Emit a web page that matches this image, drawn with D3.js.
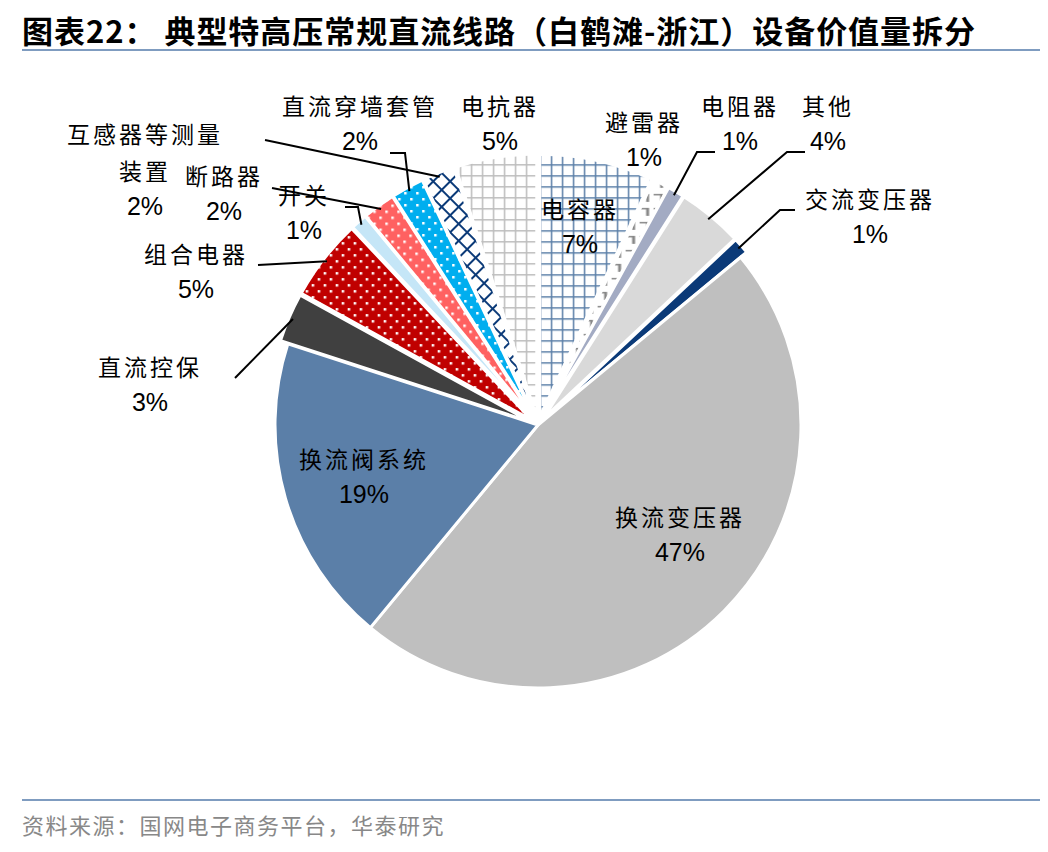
<!DOCTYPE html>
<html><head><meta charset="utf-8">
<script src="https://cdn.jsdelivr.net/npm/d3@7"></script>
<style>body{margin:0;background:#fff}</style></head>
<body><svg id="c" width="1048" height="852"></svg>
<script>
const categories=["电容器","避雷器","电阻器","其他","交流变压器","换流变压器","换流阀系统","直流控保","组合电器","开关","断路器","直流穿墙套管","互感器等测量装置","电抗器"];
const values=[7,1,1,4,1,47,19,3,5,1,2,2,2,5];
const labels=["7%","1%","1%","4%","1%","47%","19%","3%","5%","1%","2%","2%","2%","5%"];
const fills=["url(#pCap)","url(#pArr)","#A3ABC3","#D9D9D9","#0B3A78","#BFBFBF","#5B7FA8","#404040","url(#pRed)","#C5E6F7","url(#pSal)","url(#pCyan)","url(#pNavy)","url(#pGray)"];
const explode=[8,8,8,8,8,0,0,8,8,8,8,8,8,8];
const labelPos=[[580,218,"电容器"],[644,131,"避雷器"],[740,115,"电阻器"],[828,115,"其他"],[870,208,"交流变压器"],[680,526,"换流变压器"],[364,468,"换流阀系统"],[150,376,"直流控保"],[196,263,"组合电器"],[304,204,"开关"],[224,185,"断路器"],[360,115,"直流穿墙套管"],[145,143,"互感器等测量|装置"],[500,115,"电抗器"]];
const leaders={2:[[697,152],[715,152]],3:[[787,152],[805,152]],4:[[780,210],[795,210]],7:[[235,378]],8:[[258,265]],9:[[358,207],[345,207]],10:[[272,188]],12:[[265,140]],11:[[405,153],[390,153]]};
const svg=d3.select("#c");
const defs=svg.append("defs");
function grid(id,bg,col,s,w){const p=defs.append("pattern").attr("id",id).attr("width",s).attr("height",s).attr("patternUnits","userSpaceOnUse");
 p.append("rect").attr("width",s).attr("height",s).attr("fill",bg);
 p.append("path").attr("d",`M0,0H${s}M0,0V${s}`).attr("stroke",col).attr("stroke-width",w);}
grid("pCap","#fff","#5B7FA8",11,3);
grid("pGray","#fff","#BDBDBD",11,3);
function dots(id,bg){const p=defs.append("pattern").attr("id",id).attr("width",12).attr("height",12).attr("patternUnits","userSpaceOnUse");
 p.append("rect").attr("width",12).attr("height",12).attr("fill",bg);
 p.append("rect").attr("x",2).attr("y",2).attr("width",2.5).attr("height",2.5).attr("fill","#fff");
 p.append("rect").attr("x",8).attr("y",8).attr("width",2.5).attr("height",2.5).attr("fill","#fff");}
dots("pRed","#C00000");dots("pSal","#FF6161");dots("pCyan","#00AEEF");
{const p=defs.append("pattern").attr("id","pNavy").attr("width",12).attr("height",12).attr("patternUnits","userSpaceOnUse").attr("patternTransform","rotate(45)");
 p.append("rect").attr("width",12).attr("height",12).attr("fill","#fff");
 p.append("path").attr("d","M0,0H12M0,0V12").attr("stroke","#0B3A78").attr("stroke-width",4);}
{const p=defs.append("pattern").attr("id","pArr").attr("width",14).attr("height",14).attr("patternUnits","userSpaceOnUse");
 p.append("rect").attr("width",14).attr("height",14).attr("fill","#fff");
 p.append("path").attr("d","M0,0H8V8").attr("stroke","#888").attr("stroke-width",3).attr("fill","none");}
svg.append("text").attr("x",22).attr("y",43).attr("font-family","Noto Sans CJK SC").attr("font-weight","bold").attr("font-size",31).attr("textLength",953).text("图表22：  典型特高压常规直流线路（白鹤滩-浙江）设备价值量拆分");
svg.append("line").attr("x1",22).attr("x2",1040).attr("y1",50).attr("y2",50).attr("stroke","#7F9CC0").attr("stroke-width",2);
svg.append("line").attr("x1",22).attr("x2",1040).attr("y1",800).attr("y2",800).attr("stroke","#7F9CC0").attr("stroke-width",2);
svg.append("text").attr("x",22).attr("y",834).attr("font-family","Noto Sans CJK SC").attr("font-size",22).attr("letter-spacing",1.5).attr("fill","#888").text("资料来源：国网电子商务平台，华泰研究");
const cx=538,cy=425,R=263;
const pie=d3.pie().sort(null).value(d=>d)(values);
const arc=d3.arc().innerRadius(0).outerRadius(R);
const g=svg.append("g").attr("transform",`translate(${cx},${cy})`);
pie.forEach((d,i)=>{const m=(d.startAngle+d.endAngle)/2;const dx=Math.sin(m)*explode[i],dy=-Math.cos(m)*explode[i];
 g.append("path").attr("d",arc(d)).attr("transform",`translate(${dx},${dy})`).attr("fill",fills[i]).attr("stroke","#fff").attr("stroke-width",3);
 if(leaders[i]){const rr=R+explode[i]-4;const p0=[cx+Math.sin(m)*rr,cy-Math.cos(m)*rr];
  svg.append("path").attr("d",d3.line()([p0,...leaders[i]])).attr("fill","none").attr("stroke","#000").attr("stroke-width",2);}
});
labelPos.forEach((l,i)=>{const lines=l[2].split("|");let y=l[1];
 lines.forEach(t=>{svg.append("text").attr("x",l[0]).attr("y",y).attr("text-anchor","middle").attr("font-family","Noto Sans CJK SC").attr("font-size",23).attr("letter-spacing",3).text(t);y+=37;});
 svg.append("text").attr("x",l[0]).attr("y",y-2).attr("text-anchor","middle").attr("font-family","Liberation Sans").attr("font-size",25).text(labels[i]);
});
</script></body></html>
